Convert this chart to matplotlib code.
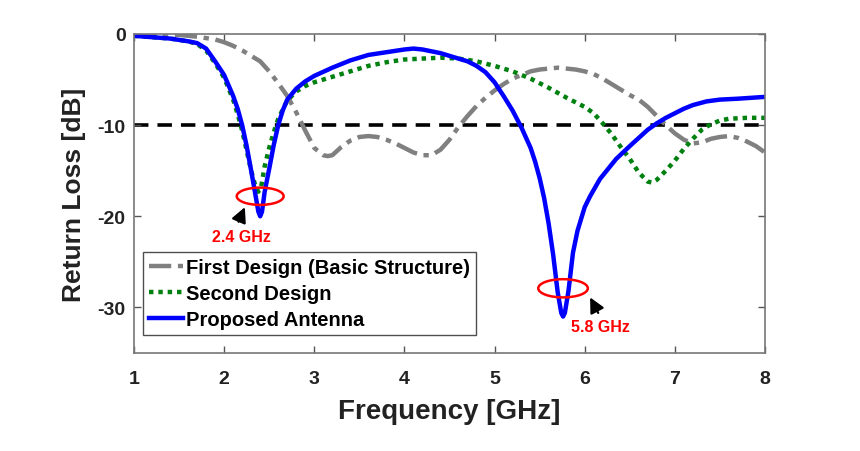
import numpy as np
import matplotlib
matplotlib.use('Agg')
from matplotlib import pyplot as plt
from matplotlib.patches import Ellipse

plt.rcParams['font.family'] = ['Liberation Sans', 'DejaVu Sans']
plt.rcParams['font.weight'] = 'bold'
plt.rcParams['axes.unicode_minus'] = False

# ---------------- data ----------------
f_first = [1.0, 1.3, 1.5, 1.7, 1.9, 2.0, 2.1, 2.2, 2.3, 2.4, 2.5, 2.6, 2.7, 2.8, 2.9,
           3.0, 3.1, 3.15, 3.2, 3.3, 3.4, 3.5, 3.6, 3.7, 3.8, 3.9, 4.0, 4.1, 4.2, 4.3,
           4.4, 4.5, 4.6, 4.7, 4.8, 4.9, 5.0, 5.1, 5.2, 5.3, 5.4, 5.5, 5.6, 5.7, 5.8,
           5.9, 6.0, 6.1, 6.2, 6.3, 6.4, 6.5, 6.6, 6.7, 6.8, 6.9, 7.0, 7.1, 7.2, 7.3,
           7.4, 7.5, 7.6, 7.7, 7.8, 7.9, 8.0]
s_first = [0.0, 0.0, -0.1, -0.3, -0.6, -0.9, -1.3, -1.8, -2.4, -3.0, -4.1, -5.4, -6.8, -8.6, -10.6,
           -12.5, -13.3, -13.4, -13.3, -12.4, -11.7, -11.3, -11.2, -11.3, -11.6, -12.0, -12.5, -13.0, -13.3, -13.3,
           -12.7, -11.6, -10.2, -9.0, -7.9, -7.0, -6.2, -5.5, -4.9, -4.5, -4.1, -3.9, -3.8, -3.7, -3.8,
           -3.9, -4.1, -4.4, -4.9, -5.5, -6.1, -6.7, -7.2, -8.0, -9.0, -10.0, -10.9, -11.6, -12.0, -11.9,
           -11.5, -11.3, -11.2, -11.4, -11.8, -12.3, -13.0]

f_second = [1.0, 1.4, 1.6, 1.7, 1.8, 1.9, 2.0, 2.1, 2.15, 2.2, 2.25, 2.3, 2.35, 2.38, 2.41,
            2.45, 2.5, 2.55, 2.6, 2.7, 2.8, 2.9, 3.0, 3.2, 3.4, 3.6, 3.8, 4.0, 4.2, 4.4,
            4.6, 4.8, 5.0, 5.2, 5.4, 5.6, 5.8, 6.0, 6.1, 6.2, 6.3, 6.4, 6.5, 6.6, 6.7,
            6.75, 6.8, 6.9, 7.0, 7.1, 7.2, 7.3, 7.4, 7.5, 7.6, 7.8, 8.0]
s_second = [-0.2, -0.5, -0.8, -1.1, -1.8, -3.2, -4.8, -7.2, -8.8, -10.6, -12.8, -15.0, -16.8, -17.3, -16.8,
            -14.5, -12.5, -10.8, -9.3, -7.3, -6.3, -5.7, -5.3, -4.7, -4.1, -3.5, -3.1, -2.8, -2.7, -2.6,
            -2.7, -3.0, -3.5, -4.1, -4.9, -5.9, -7.0, -8.0, -8.7, -9.8, -11.0, -12.4, -13.7, -15.2, -16.2,
            -16.3, -16.0, -15.0, -13.9, -12.6, -11.5, -10.5, -9.9, -9.5, -9.3, -9.2, -9.2]

f_prop = [1.0, 1.2, 1.4, 1.6, 1.7, 1.8, 1.9, 2.0, 2.1, 2.15, 2.2, 2.25, 2.3, 2.35, 2.38,
          2.4, 2.42, 2.45, 2.5, 2.55, 2.6, 2.65, 2.7, 2.8, 2.9, 3.0, 3.2, 3.4, 3.6, 3.8,
          4.0, 4.1, 4.2, 4.3, 4.4, 4.5, 4.6, 4.7, 4.8, 4.9, 5.0, 5.1, 5.2, 5.3, 5.4,
          5.45, 5.5, 5.55, 5.6, 5.65, 5.7, 5.74, 5.76, 5.78, 5.82, 5.87, 5.92, 6.0, 6.06, 6.17,
          6.35, 6.5, 6.6, 6.7, 6.8, 6.9, 7.0, 7.1, 7.2, 7.35, 7.5, 7.7, 8.0]
s_prop = [-0.2, -0.35, -0.5, -0.8, -1.0, -1.6, -3.0, -4.5, -6.8, -8.2, -10.0, -12.3, -15.0, -17.8, -19.5,
          -20.0, -19.5, -17.3, -14.8, -12.2, -10.0, -8.4, -7.2, -6.0, -5.2, -4.6, -3.7, -2.9, -2.3, -2.0,
          -1.7, -1.6, -1.7, -1.9, -2.1, -2.4, -2.7, -3.0, -3.5, -4.2, -5.3, -6.8, -8.4, -10.3, -12.5,
          -14.0, -15.8, -18.0, -20.8, -24.2, -28.3, -30.6, -31.0, -30.6, -28.2, -24.0, -21.6, -19.0, -17.8, -15.9,
          -13.7, -12.3, -11.4, -10.5, -9.8, -9.2, -8.7, -8.2, -7.8, -7.4, -7.2, -7.1, -6.9]

threshold = -10
marks = ['2.4 GHz', '5.8 GHz']
mark_f = [2.40, 5.76]
mark_s = [-17.8, -27.9]

# ---------------- figure ----------------
fig = plt.figure(figsize=(8.6, 4.52), dpi=100)
ax = fig.add_axes([0.1558, 0.2168, 0.7337, 0.7058])

ax.plot(f_first, s_first, color='#808080', lw=3.2, dashes=(5, 1.5, 1.2, 1.5),
        label='First Design (Basic Structure)')
ax.plot(f_second, s_second, color='#00800f', lw=3.2, dashes=(1, 1.1),
        label='Second Design')
ax.plot(f_prop, s_prop, color='#0000ff', lw=3.2, label='Proposed Antenna')
ax.plot([1, 8], [threshold, threshold], color='black', lw=2.6, dashes=(4, 2.5), zorder=1)

# red ellipses + cursor arrows + labels
ax.add_patch(Ellipse((mark_f[0], mark_s[0]), 0.52, 1.9, fill=False, ec='red', lw=1.8, zorder=5))
ax.add_patch(Ellipse((mark_f[1], mark_s[1]), 0.55, 2.0, fill=False, ec='red', lw=1.8, zorder=5))
arrow = dict(arrowstyle='-|>,head_length=0.9,head_width=0.45', color='black',
             lw=1.6, mutation_scale=10, shrinkA=0, shrinkB=0)
ax.annotate('', xy=(2.23, -19.0), xytext=(2.16, -20.6), arrowprops=arrow)
ax.annotate('', xy=(6.06, -28.9), xytext=(6.15, -30.6), arrowprops=arrow)
ax.text(2.19, -22.2, marks[0], color='red', fontsize=11.5, fontweight='bold',
        ha='center', va='center')
ax.text(6.17, -32.1, marks[1], color='red', fontsize=11.5, fontweight='bold',
        ha='center', va='center')

ax.set(xlim=(1, 8), ylim=(-35, 0),
       xticks=np.arange(1, 9, 1), yticks=[0, -10, -20, -30])
ax.tick_params(direction='in', top=True, right=True, length=5, width=1,
               color='#555555', labelsize=14, labelcolor='#222222', pad=12)
for lab in ax.get_xticklabels() + ax.get_yticklabels():
    lab.set_fontweight('bold')
ax.tick_params(axis='y', pad=6)
for sp in ax.spines.values():
    sp.set_color('#777777')
    sp.set_linewidth(1.2)

ax.set_xlabel('Frequency [GHz]', fontsize=20, fontweight='bold', color='#222222', labelpad=8)
ax.set_ylabel('Return Loss [dB]', fontsize=19, fontweight='bold', color='#222222', labelpad=8)

leg = ax.legend(loc='upper left', bbox_to_anchor=(0.0142, 0.317),
                prop={'weight': 'bold', 'size': 14.5}, frameon=True, fancybox=False,
                handlelength=1.7, handletextpad=0.15, borderpad=0.3, labelspacing=0.35,
                borderaxespad=0)
leg.get_frame().set_edgecolor('#222222')
leg.get_frame().set_linewidth(1.0)

fig.savefig('out.png', dpi=100)
